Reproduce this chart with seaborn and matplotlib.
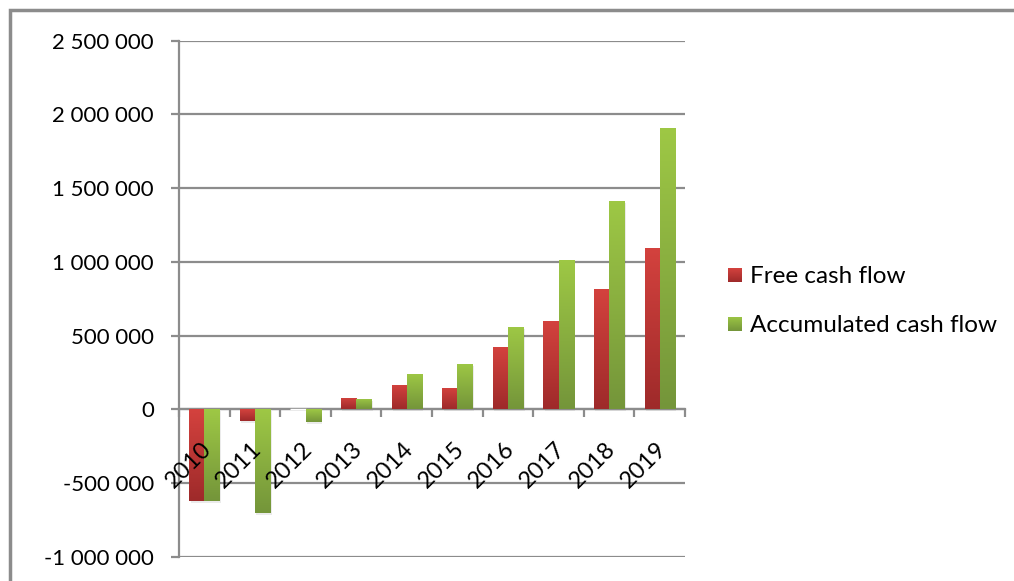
import numpy as np
import pandas as pd
import matplotlib
matplotlib.use("Agg")
import matplotlib.pyplot as plt
import matplotlib.transforms as mtransforms
from matplotlib.patches import Rectangle
from matplotlib.colors import LinearSegmentedColormap
import seaborn as sns

years = ["2010", "2011", "2012", "2013", "2014", "2015", "2016", "2017", "2018", "2019"]
free_cash_flow = [-623000, -79000, 0, 75000, 163000, 143000, 421000, 600000, 815000, 1096000]
accumulated_cash_flow = [-623000, -704000, -86000, 68000, 238000, 306000, 557000, 1012000, 1413000, 1909000]
series_names = ["Free cash flow", "Accumulated cash flow"]
y_ticks = [-1000000, -500000, 0, 500000, 1000000, 1500000, 2000000, 2500000]

df = pd.DataFrame({
    "year": years * 2,
    "value": free_cash_flow + accumulated_cash_flow,
    "series": [series_names[0]] * len(years) + [series_names[1]] * len(years),
})

sns.set_theme(style="white")
plt.rcParams["font.family"] = ["Lato", "DejaVu Sans"]

fig = plt.figure(figsize=(10.14, 5.81), dpi=100)
ax = fig.add_axes([179 / 1014, 1 - 556.7 / 581, (685 - 179) / 1014, (556.7 - 40.7) / 581])

palette = {series_names[0]: "#c83a3a", series_names[1]: "#8ab343"}
sns.barplot(data=df, x="year", y="value", hue="series", palette=palette,
            width=0.6, ax=ax, legend=False, zorder=3)

ax.set_ylim(-1000000, 2500000)
ax.set_xlim(-0.5, len(years) - 0.5)
ax.set_yticks(y_ticks)
ax.set_yticklabels([f"{v:,}".replace(",", " ") for v in y_ticks], fontsize=16)
ax.yaxis.grid(True, color="#8c8c8c", linewidth=1.6, zorder=0)
ax.set_axisbelow(True)
ax.set_xlabel("")
ax.set_ylabel("")

for s in ["top", "right"]:
    ax.spines[s].set_visible(False)
ax.spines["left"].set_color("#8c8c8c")
ax.spines["left"].set_linewidth(1.6)
ax.spines["bottom"].set_position(("data", 0))
ax.spines["bottom"].set_color("#8c8c8c")
ax.spines["bottom"].set_linewidth(1.6)

ax.tick_params(axis="y", which="major", length=6, width=1.6, color="#8c8c8c",
               pad=12, labelcolor="black", left=True)
ax.set_xticks(range(len(years)))
ax.set_xticklabels([])
ax.tick_params(axis="x", which="major", length=0)
ax.set_xticks(np.arange(-0.5, len(years) + 0.5, 1.0), minor=True)
ax.tick_params(axis="x", which="minor", length=6, width=1.6, color="#8c8c8c",
               direction="out", bottom=True)

# category labels drawn above bars (as in the reference)
offset = mtransforms.ScaledTranslation(-16 / 100, -56 / 100, fig.dpi_scale_trans)
for i, yr in enumerate(years):
    ax.text(i, 0, yr, transform=ax.transData + offset, rotation=45, ha="center",
            va="center", fontsize=17, color="black", zorder=20, clip_on=False)

# gradient fills
cmaps = {
    series_names[0]: LinearSegmentedColormap.from_list("r", ["#9e2a2a", "#d4423e"]),
    series_names[1]: LinearSegmentedColormap.from_list("g", ["#74953a", "#9ec845"]),
}
grad = np.linspace(0, 1, 256).reshape(-1, 1)
patches = list(ax.patches)
n = len(years)
for i, p in enumerate(patches[: 2 * n]):
    name = series_names[0] if i < n else series_names[1]
    x0, w = p.get_x(), p.get_width()
    y0, h = p.get_y(), p.get_height()
    if h == 0:
        continue
    ylo, yhi = min(y0, y0 + h), max(y0, y0 + h)
    sh = Rectangle((x0 + 0.03, ylo - 12000), w, yhi - ylo, facecolor="black",
                   alpha=0.08, edgecolor="none", zorder=2)
    ax.add_patch(sh)
    im = ax.imshow(grad, cmap=cmaps[name], extent=[x0, x0 + w, ylo, yhi],
                   origin="lower", aspect="auto", zorder=3.5, interpolation="bicubic")
    im.set_clip_path(p)
    p.set_facecolor("none")
    p.set_edgecolor("none")
ax.set_xlim(-0.5, len(years) - 0.5)
ax.set_ylim(-1000000, 2500000)

# legend
legend_items = [
    (series_names[0], 275, 283, cmaps[series_names[0]]),
    (series_names[1], 324, 332, cmaps[series_names[1]]),
]
for name, ysq, ybase, cm in legend_items:
    yf = 1 - ysq / 581
    sq = fig.add_axes([728 / 1014, yf - 7 / 581, 14 / 1014, 14 / 581])
    sq.imshow(grad, cmap=cm, origin="lower", aspect="auto")
    sq.set_axis_off()
    fig.text(750 / 1014, 1 - ybase / 581, name, fontsize=17.5, va="baseline",
             ha="left", color="black")

# outer border
border = Rectangle((10 / 1014, -0.1), 1.2, 1.1 - 10 / 581, transform=fig.transFigure,
                   fill=False, edgecolor="#8c8c8c", linewidth=2.5)
fig.patches.append(border)

fig.savefig("out.png", dpi=100)
